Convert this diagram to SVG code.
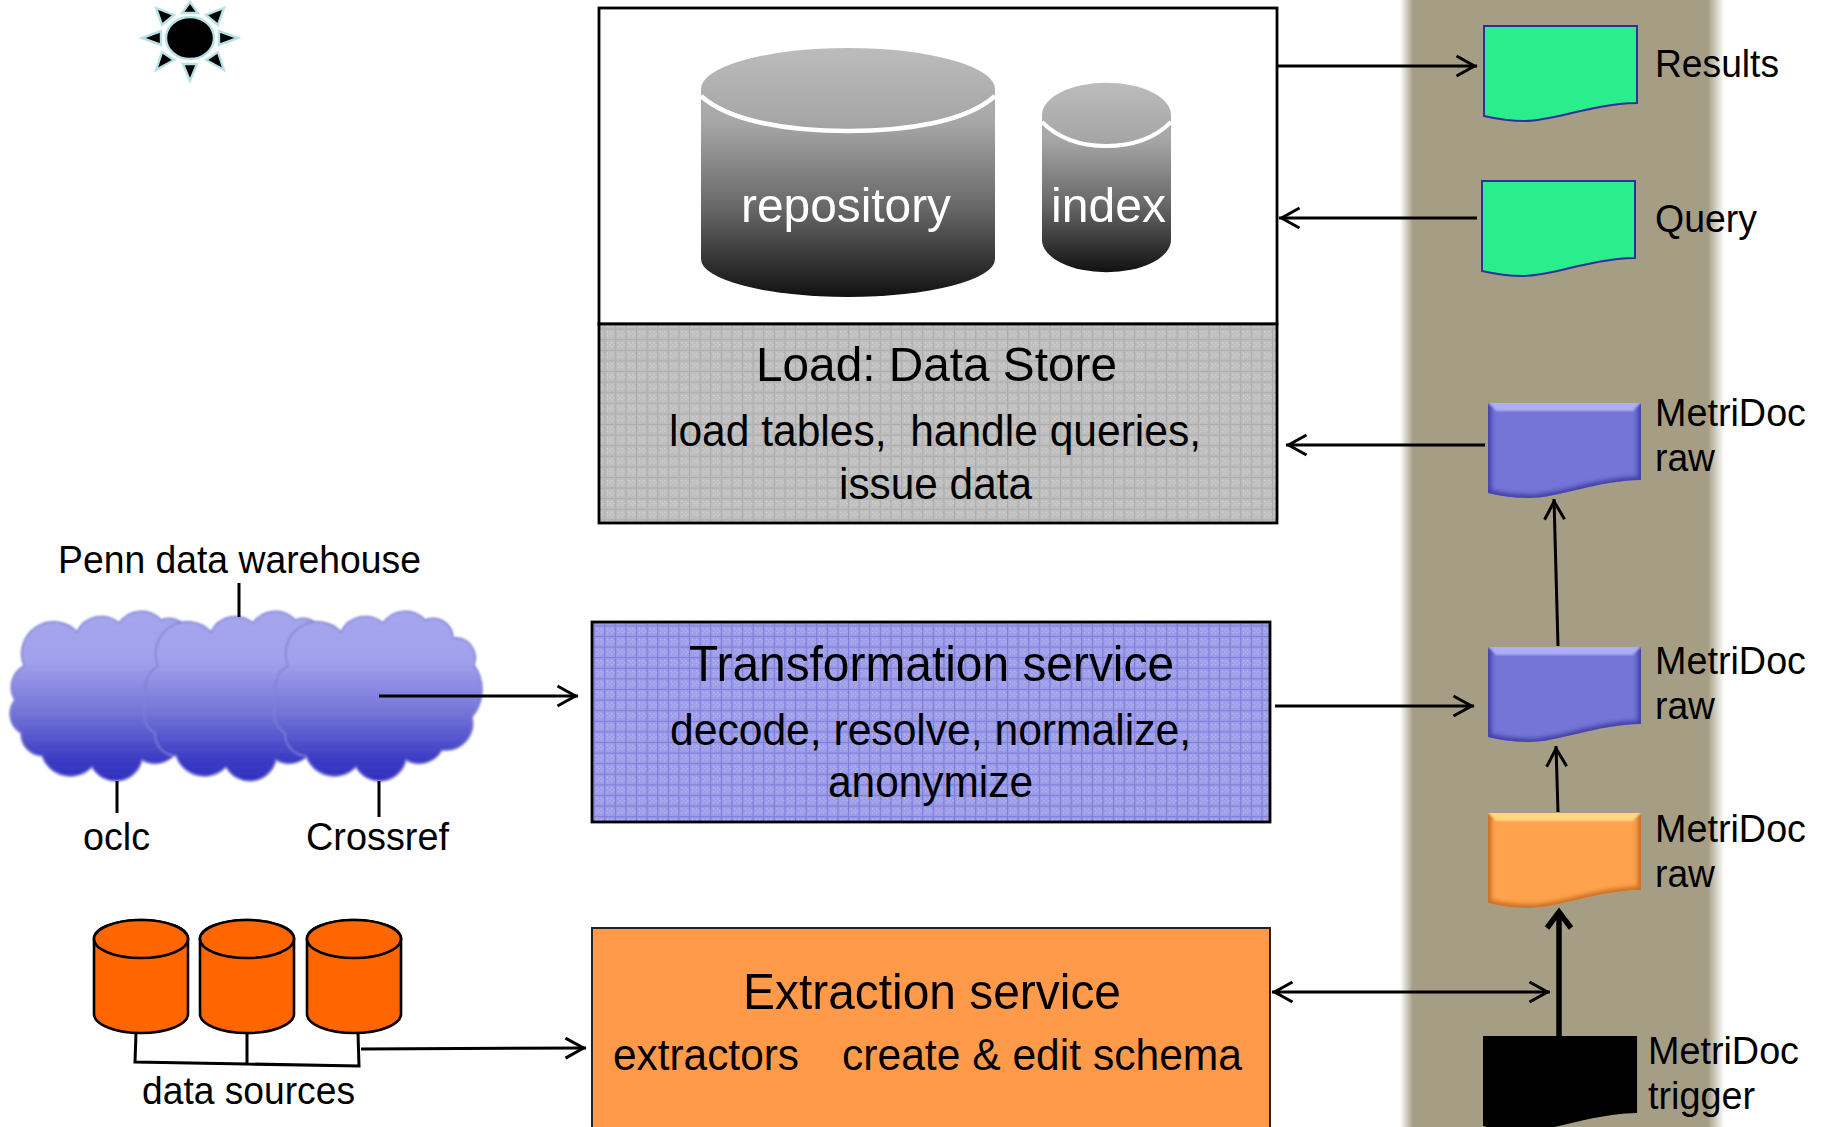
<svg xmlns="http://www.w3.org/2000/svg" width="1828" height="1127" viewBox="0 0 1828 1127">
<style>
text{font-family:"Liberation Sans",Arial,sans-serif;fill:#000;white-space:pre}
.lbl{font-size:38px}
.sub{font-size:44px}
.ttl{font-size:50px}
.wht{fill:#fff;font-size:49px}
.conn{fill:none;stroke:#000;stroke-width:3}
.arr{marker-end:url(#open)}
.box{stroke:#000;stroke-width:2.8}
.cyl{fill:#f60;stroke:#000;stroke-width:2.6}
.green{fill:#2aed8c;stroke:#2f2f9f;stroke-width:2}
.sun{fill:#000;stroke:#b7e1e4;stroke-width:2.4}
</style>
<defs>
<linearGradient id="band" x1="1400" x2="1724" y1="0" y2="0" gradientUnits="userSpaceOnUse">
<stop offset="0" stop-color="#a59e85" stop-opacity="0"/><stop offset="0.04" stop-color="#a59e85"/><stop offset="0.95" stop-color="#a59e85"/><stop offset="1" stop-color="#a59e85" stop-opacity="0"/>
</linearGradient>
<linearGradient id="cloudG" x1="0" x2="0" y1="0" y2="1">
<stop offset="0" stop-color="#a6a6ee"/><stop offset="0.3" stop-color="#a0a0ec"/><stop offset="0.6" stop-color="#7474d8"/><stop offset="0.88" stop-color="#3a3ac4"/><stop offset="1" stop-color="#3232c0"/>
</linearGradient>
<linearGradient id="grey1" x1="0" x2="0" y1="0" y2="1">
<stop offset="0" stop-color="#bcbcbc"/><stop offset="0.3" stop-color="#a6a6a6"/><stop offset="0.65" stop-color="#666"/><stop offset="1" stop-color="#111"/>
</linearGradient>
<pattern id="pGrey" width="10.6" height="10.6" patternUnits="userSpaceOnUse">
<rect width="10.6" height="10.6" fill="#bebebe"/>
<path d="M3 3h1v1h-1zM7 3h1v1h-1zM5 5h1v1h-1zM9 5h1v1h-1zM3 7h1v1h-1zM7 7h1v1h-1z" fill="#e2e2e2"/>
<path d="M0 .5H10.6M.5 0V10.6" stroke="#adadad" stroke-width="1"/>
</pattern>
<pattern id="pBlue" width="10.6" height="10.6" patternUnits="userSpaceOnUse">
<rect width="10.6" height="10.6" fill="#9c9ce8"/>
<path d="M3 3h1v1h-1zM7 3h1v1h-1zM5 5h1v1h-1zM9 5h1v1h-1zM3 7h1v1h-1zM7 7h1v1h-1z" fill="#cfcff6"/>
<path d="M0 .5H10.6M.5 0V10.6" stroke="#7c7cda" stroke-width="1"/>
</pattern>
<marker id="open" markerUnits="userSpaceOnUse" markerWidth="30" markerHeight="30" refX="26.5" refY="13" orient="auto-start-reverse" viewBox="0 0 30 30">
<path d="M6 3L24 13L6 23" fill="none" stroke="#000" stroke-width="3"/>
</marker>
<marker id="thick" markerUnits="userSpaceOnUse" markerWidth="40" markerHeight="40" refX="26" refY="16" orient="auto" viewBox="0 0 40 40">
<path d="M10 4L26 16L10 28" fill="none" stroke="#000" stroke-width="5.5"/>
</marker>
<path id="doc" d="M0 0H153V77C106 78 71 95 41 95C26 95 13 93 0 90Z"/>
<path id="cloud" d="M279 700A24 24 0 0 1 288 666A32 32 0 0 1 341 632A27 27 0 0 1 383 623A27 27 0 0 1 425 620A20 20 0 0 1 453 638A20 20 0 0 1 474 665A42 42 0 0 1 472 717A27 27 0 0 1 442 750A26 26 0 0 1 406 760A27 27 0 0 1 356 767A30 30 0 0 1 306 756A22 22 0 0 1 285 733A22 22 0 0 1 279 700Z"/>
<filter id="soft" x="-5%" y="-5%" width="110%" height="110%"><feGaussianBlur stdDeviation="0.8"/></filter>
<filter id="bev" x="-10%" y="-10%" width="120%" height="120%"><feGaussianBlur stdDeviation="2"/></filter>
<clipPath id="docClip"><use href="#doc"/></clipPath>
</defs>

<rect id="band-bg" x="1400" y="0" width="324" height="1127" fill="url(#band)"/>

<g id="sun">
<ellipse class="sun" cx="190" cy="38" rx="24" ry="21"/>
<path class="sun" d="M190 2L182 13H198Z"/>
<path class="sun" d="M190 81L183 64H197Z"/>
<path class="sun" d="M142 38L161 31V45Z"/>
<path class="sun" d="M238 38L219 31V45Z"/>
<path class="sun" d="M156 8L174 15L162 25Z"/>
<path class="sun" d="M224 8L206 15L218 25Z"/>
<path class="sun" d="M156 70L174 60L162 52Z"/>
<path class="sun" d="M224 70L206 60L218 52Z"/>
</g>

<g id="data-store">
<rect class="box" x="599" y="8" width="678" height="316" fill="#fff"/>
<rect class="box" x="599" y="324" width="678" height="199" fill="url(#pGrey)"/>
<text class="ttl" style="font-size:49px" x="756" y="381" textLength="361" lengthAdjust="spacingAndGlyphs">Load: Data Store</text>
<text class="sub" x="669" y="446" textLength="532" lengthAdjust="spacingAndGlyphs">load tables,  handle queries,</text>
<text class="sub" x="839" y="499" textLength="193" lengthAdjust="spacingAndGlyphs">issue data</text>
</g>
<g id="repository">
<path d="M701 89A147 41 0 0 1 995 89V259A147 38 0 0 1 701 259Z" fill="url(#grey1)"/>
<path d="M701 96C730 122 790 131 848 131C906 131 966 122 995 96" fill="none" stroke="#fff" stroke-width="4.5"/>
<text class="wht" x="741" y="222" textLength="210" lengthAdjust="spacingAndGlyphs">repository</text>
</g>
<g id="index">
<path d="M1042 115A64 32 0 0 1 1171 115V240A64 32 0 0 1 1042 240Z" fill="url(#grey1)"/>
<path d="M1042 122C1058 138 1080 146 1106 146C1132 146 1155 138 1171 122" fill="none" stroke="#fff" stroke-width="4"/>
<text class="wht" x="1051" y="222" textLength="115" lengthAdjust="spacingAndGlyphs">index</text>
</g>

<g id="transformation-service">
<rect class="box" x="592" y="622" width="678" height="200" fill="url(#pBlue)"/>
<text class="ttl" x="689" y="681" textLength="485" lengthAdjust="spacingAndGlyphs">Transformation service</text>
<text class="sub" x="670" y="745" textLength="521" lengthAdjust="spacingAndGlyphs">decode, resolve, normalize,</text>
<text class="sub" x="828" y="797" textLength="205" lengthAdjust="spacingAndGlyphs">anonymize</text>
</g>

<g id="extraction-service">
<rect x="592" y="928" width="678" height="210" fill="#ff9a4a" stroke="#222" stroke-width="2"/>
<text class="ttl" x="743" y="1009" textLength="378" lengthAdjust="spacingAndGlyphs">Extraction service</text>
<text class="sub" x="613" y="1070" textLength="186" lengthAdjust="spacingAndGlyphs">extractors</text>
<text class="sub" x="842" y="1070" textLength="400" lengthAdjust="spacingAndGlyphs">create &amp; edit schema</text>
</g>

<g id="clouds">
<g filter="url(#soft)">
<use href="#cloud" transform="translate(-264 0)" fill="url(#cloudG)" stroke="#7f7fd8" stroke-width="1.5"/>
<use href="#cloud" transform="translate(-130 0)" fill="url(#cloudG)" stroke="#7f7fd8" stroke-width="1.5"/>
<use href="#cloud" fill="url(#cloudG)" stroke="#7f7fd8" stroke-width="1.5"/>
</g>
<text class="lbl" x="58" y="573" textLength="363" lengthAdjust="spacingAndGlyphs">Penn data warehouse</text>
<text class="lbl" x="83" y="850" textLength="67" lengthAdjust="spacingAndGlyphs">oclc</text>
<text class="lbl" x="306" y="850" textLength="143" lengthAdjust="spacingAndGlyphs">Crossref</text>
</g>

<g id="data-sources">
<path class="cyl" d="M94 939A47 19 0 0 1 188 939V1014A47 19 0 0 1 94 1014Z"/><ellipse class="cyl" cx="141" cy="939" rx="47" ry="19"/>
<path class="cyl" d="M200 939A47 19 0 0 1 294 939V1014A47 19 0 0 1 200 1014Z"/><ellipse class="cyl" cx="247" cy="939" rx="47" ry="19"/>
<path class="cyl" d="M307 939A47 19 0 0 1 401 939V1014A47 19 0 0 1 307 1014Z"/><ellipse class="cyl" cx="354" cy="939" rx="47" ry="19"/>
<text class="lbl" x="142" y="1104" textLength="213" lengthAdjust="spacingAndGlyphs">data sources</text>
</g>

<g id="results"><use href="#doc" class="green" transform="translate(1484 26)"/>
<text class="lbl" x="1655" y="77" textLength="124" lengthAdjust="spacingAndGlyphs">Results</text></g>
<g id="query"><use href="#doc" class="green" transform="translate(1482 181)"/>
<text class="lbl" x="1655" y="232" textLength="102" lengthAdjust="spacingAndGlyphs">Query</text></g>

<g id="raw-top"><g transform="translate(1488 403)">
<use href="#doc" fill="#7575d8"/><g clip-path="url(#docClip)"><use href="#doc" fill="none" stroke="#4040a8" stroke-width="7" filter="url(#bev)"/><path d="M-2 -2H155L145 8H8Z" fill="#aeaef8" filter="url(#soft)"/></g></g>
<text class="lbl" x="1655" y="426" textLength="151" lengthAdjust="spacingAndGlyphs">MetriDoc</text>
<text class="lbl" x="1655" y="471" textLength="60" lengthAdjust="spacingAndGlyphs">raw</text></g>

<g id="raw-mid"><g transform="translate(1488 647)">
<use href="#doc" fill="#7575d8"/><g clip-path="url(#docClip)"><use href="#doc" fill="none" stroke="#4040a8" stroke-width="7" filter="url(#bev)"/><path d="M-2 -2H155L145 8H8Z" fill="#aeaef8" filter="url(#soft)"/></g></g>
<text class="lbl" x="1655" y="674" textLength="151" lengthAdjust="spacingAndGlyphs">MetriDoc</text>
<text class="lbl" x="1655" y="719" textLength="60" lengthAdjust="spacingAndGlyphs">raw</text></g>

<g id="raw-low"><g transform="translate(1488 813)">
<use href="#doc" fill="#ffa24d"/><g clip-path="url(#docClip)"><use href="#doc" fill="none" stroke="#c87028" stroke-width="7" filter="url(#bev)"/><path d="M-2 -2H155L145 8H8Z" fill="#ffd880" filter="url(#soft)"/></g></g>
<text class="lbl" x="1655" y="842" textLength="151" lengthAdjust="spacingAndGlyphs">MetriDoc</text>
<text class="lbl" x="1655" y="887" textLength="60" lengthAdjust="spacingAndGlyphs">raw</text></g>

<g id="trigger"><use href="#doc" fill="#000" transform="translate(1483 1036) scale(1.007 1)"/>
<text class="lbl" x="1648" y="1064" textLength="151" lengthAdjust="spacingAndGlyphs">MetriDoc</text>
<text class="lbl" x="1648" y="1109" textLength="107" lengthAdjust="spacingAndGlyphs">trigger</text></g>

<g id="connectors">
<path class="conn" d="M239 583V617M117 781V813M379 781V817"/>
<path class="conn arr" d="M379 696H578"/>
<path d="M136 1033L135 1062L247 1064L359 1066L358 1033M247 1033V1064" fill="none" stroke="#000" stroke-width="3"/>
<path class="conn arr" d="M361 1049L586 1048"/>
<path class="conn arr" d="M1277 66H1477"/>
<path class="conn arr" d="M1477 218H1279"/>
<path class="conn arr" d="M1485 445H1286"/>
<path class="conn arr" d="M1275 706H1474"/>
<path class="conn arr" d="M1558 646L1554 499"/>
<path class="conn arr" d="M1558 812L1556 746"/>
<path d="M1559 1036V912" fill="none" stroke="#000" stroke-width="5.5" marker-end="url(#thick)"/>
<path class="conn arr" style="marker-start:url(#open)" d="M1272 992H1550"/>
</g>
</svg>
